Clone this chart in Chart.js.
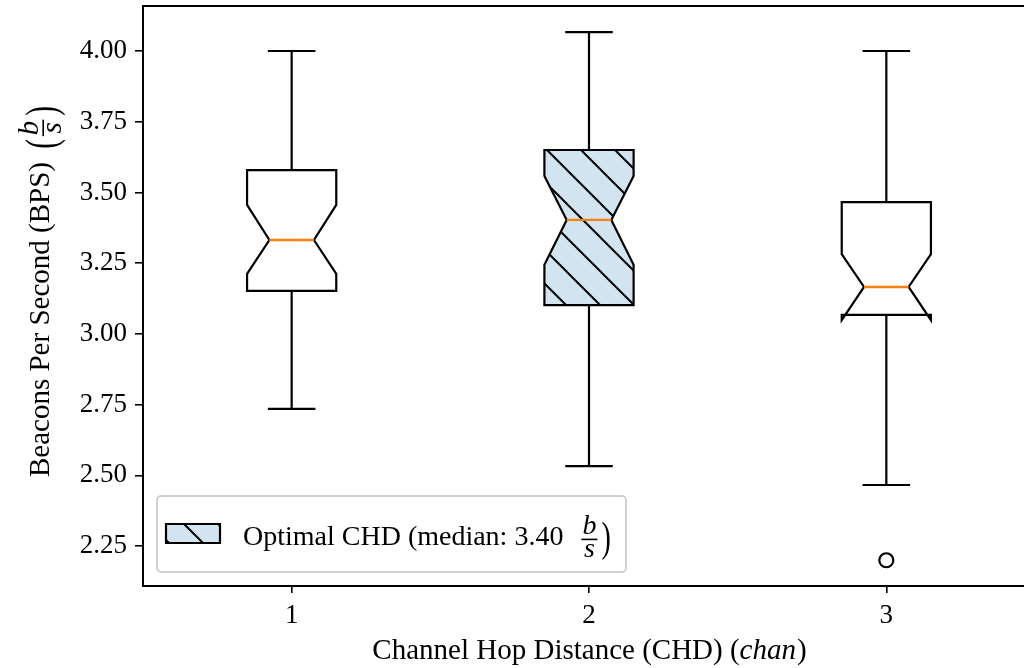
<!DOCTYPE html>
<html>
<head>
<meta charset="utf-8">
<script src="https://cdn.jsdelivr.net/npm/chart.js@4.4.1/dist/chart.umd.min.js"></script>
<style>
  html, body { margin: 0; padding: 0; background: #fff; overflow: hidden; }
  #wrap { width: 1046px; height: 668px; }
</style>
</head>
<body>
<div id="wrap"><canvas id="bps" width="1046" height="668"></canvas></div>
<script>
(function () {
    'use strict';

    // chart data
    var categories = [1, 2, 3];
    var whiskerLow = [2.735, 2.533, 2.466];
    var q1 = [3.152, 3.102, 3.067];
    var medians = [3.332, 3.403, 3.166];
    var q3 = [3.579, 3.650, 3.466];
    var whiskerHigh = [4.000, 4.067, 4.000];
    var notchLow = [3.212, 3.244, 3.049];
    var notchHigh = [3.456, 3.558, 3.282];
    var outliers = [{ x: 3, y: 2.20 }];
    var optimalIndex = 1;
    var yTicks = [2.25, 2.50, 2.75, 3.00, 3.25, 3.50, 3.75, 4.00];
    var xTicks = [1, 2, 3];

    var FONT = '"Liberation Serif", "DejaVu Serif", serif';
    var TICK_FS = 27;
    var BLUE_FILL = 'rgba(31,119,180,0.2)';
    var ORANGE = '#ff7f0e';

    Chart.defaults.font.family = FONT;
    Chart.defaults.font.size = TICK_FS;
    Chart.defaults.color = '#000';

    function hatchPattern(ctx, dx) {
        var t = document.createElement('canvas');
        t.width = 34; t.height = 34;
        var c = t.getContext('2d');
        c.strokeStyle = '#000';
        c.lineWidth = 2;
        c.beginPath();
        c.moveTo(-34, 0); c.lineTo(34, 68);
        c.moveTo(0, 0); c.lineTo(34, 34);
        c.moveTo(0, -34); c.lineTo(68, 34);
        c.stroke();
        var p = ctx.createPattern(t, 'repeat');
        p.setTransform(new DOMMatrix().translate(dx, 0));
        return p;
    }

    // tall thin paren: a normal glyph stretched vertically
    function tallParen(ctx, ch, x, axis, fs) {
        ctx.save();
        ctx.font = fs + 'px ' + FONT;
        ctx.textBaseline = 'middle';
        ctx.textAlign = 'left';
        var w = ctx.measureText(ch).width;
        ctx.translate(x, axis);
        ctx.scale(1, 1.5);
        ctx.fillText(ch, 0, 0);
        ctx.restore();
        return w;
    }

    // text, optional tall "(", stacked b/s fraction, tall ")"
    function drawWithFraction(ctx, before, openParen, fs, x, y, gap) {
        var font = fs + 'px ' + FONT;
        var ital = 'italic ' + fs + 'px ' + FONT;
        var axis = y - fs * 0.2;
        ctx.textAlign = 'left';
        ctx.textBaseline = 'alphabetic';
        ctx.font = font;
        ctx.fillText(before, x, y);
        var cx = x + ctx.measureText(before).width + gap;
        if (openParen) {
            cx += tallParen(ctx, '(', cx, axis + 1, fs) + 1;
        }
        ctx.font = ital;
        var nw = ctx.measureText('b').width;
        var dw = ctx.measureText('s').width;
        var fw = Math.max(nw, dw) + 6;
        ctx.fillText('b', cx + (fw - nw) / 2, axis - 5);
        ctx.fillText('s', cx + (fw - dw) / 2, axis + fs * 0.62);
        ctx.fillRect(cx + 2, axis - 0.8, fw - 4, 1.6);
        cx += fw + 2;
        tallParen(ctx, ')', cx, axis + 1, fs);
    }

    var boxPlugin = {
        id: 'notchedBoxes',
        afterDatasetsDraw: function (chart) {
            var ctx = chart.ctx;
            var xs = chart.scales.x, ys = chart.scales.y;
            var area = chart.chartArea;
            ctx.save();
            ctx.beginPath();
            ctx.rect(area.left, area.top, area.right - area.left, area.bottom - area.top);
            ctx.clip();
            categories.forEach(function (c, i) {
                var L = xs.getPixelForValue(c - 0.15), R = xs.getPixelForValue(c + 0.15);
                var wL = xs.getPixelForValue(c - 0.075), wR = xs.getPixelForValue(c + 0.075);
                var cL = xs.getPixelForValue(c - 0.08), cR = xs.getPixelForValue(c + 0.08);
                var xc = xs.getPixelForValue(c);
                var y1 = ys.getPixelForValue(q1[i]), y3 = ys.getPixelForValue(q3[i]);
                var ym = ys.getPixelForValue(medians[i]);
                var nl = ys.getPixelForValue(notchLow[i]), nh = ys.getPixelForValue(notchHigh[i]);
                var wl = ys.getPixelForValue(whiskerLow[i]), wh = ys.getPixelForValue(whiskerHigh[i]);

                ctx.strokeStyle = '#000';
                ctx.lineWidth = 2.2;
                ctx.lineCap = 'butt';
                // whiskers + caps
                ctx.beginPath();
                ctx.moveTo(xc, y1); ctx.lineTo(xc, wl);
                ctx.moveTo(xc, y3); ctx.lineTo(xc, wh);
                ctx.moveTo(cL, wl); ctx.lineTo(cR, wl);
                ctx.moveTo(cL, wh); ctx.lineTo(cR, wh);
                ctx.stroke();

                // notched box
                ctx.beginPath();
                ctx.moveTo(L, y1);
                ctx.lineTo(R, y1);
                ctx.lineTo(R, nl);
                ctx.lineTo(wR, ym);
                ctx.lineTo(R, nh);
                ctx.lineTo(R, y3);
                ctx.lineTo(L, y3);
                ctx.lineTo(L, nh);
                ctx.lineTo(wL, ym);
                ctx.lineTo(L, nl);
                ctx.closePath();
                if (i === optimalIndex) {
                    ctx.fillStyle = BLUE_FILL;
                    ctx.fill();
                    ctx.fillStyle = hatchPattern(ctx, 23);
                    ctx.fill();
                } else {
                    ctx.fillStyle = '#fff';
                    ctx.fill();
                }
                ctx.lineJoin = 'miter';
                ctx.stroke();

                // median
                ctx.strokeStyle = ORANGE;
                ctx.lineWidth = 2.4;
                ctx.beginPath();
                ctx.moveTo(wL, ym); ctx.lineTo(wR, ym);
                ctx.stroke();
            });
            ctx.restore();

            // frame: top + right (left/bottom come from axis borders)
            ctx.save();
            ctx.strokeStyle = '#000';
            ctx.lineWidth = 2;
            ctx.beginPath();
            ctx.moveTo(area.left, area.top);
            ctx.lineTo(area.right, area.top);
            ctx.lineTo(area.right, area.bottom);
            ctx.stroke();
            ctx.restore();

            // legend
            ctx.save();
            var lx = 157, ly = 496, lw = 469, lh = 76;
            ctx.fillStyle = 'rgba(255,255,255,0.85)';
            ctx.strokeStyle = '#d0d0d0';
            ctx.lineWidth = 2;
            ctx.beginPath();
            ctx.roundRect(lx, ly, lw, lh, 4);
            ctx.fill();
            ctx.stroke();
            ctx.beginPath();
            ctx.rect(166, 524, 54, 19);
            ctx.fillStyle = BLUE_FILL;
            ctx.fill();
            ctx.fillStyle = hatchPattern(ctx, 0);
            ctx.fill();
            ctx.strokeStyle = '#000';
            ctx.lineWidth = 2.2;
            ctx.stroke();
            ctx.fillStyle = '#000';
            drawWithFraction(ctx, 'Optimal CHD (median: 3.40 ', false, 28, 243, 545, 9);
            ctx.restore();

            // axis titles
            ctx.save();
            ctx.fillStyle = '#000';
            var XFS = 29;
            ctx.textBaseline = 'alphabetic';
            var xt1 = 'Channel Hop Distance (CHD) (';
            var xt2 = 'chan';
            var xt3 = ')';
            ctx.font = XFS + 'px ' + FONT;
            var w1 = ctx.measureText(xt1).width, w3 = ctx.measureText(xt3).width;
            ctx.font = 'italic ' + XFS + 'px ' + FONT;
            var w2 = ctx.measureText(xt2).width;
            var startX = 589 - (w1 + w2 + w3) / 2;
            ctx.font = XFS + 'px ' + FONT;
            ctx.fillText(xt1, startX, 659);
            ctx.font = 'italic ' + XFS + 'px ' + FONT;
            ctx.fillText(xt2, startX + w1, 659);
            ctx.font = XFS + 'px ' + FONT;
            ctx.fillText(xt3, startX + w1 + w2 + 1, 659);

            ctx.translate(49, 0);
            ctx.rotate(-Math.PI / 2);
            drawWithFraction(ctx, 'Beacons Per Second (BPS) ', true, 29, -477, 0, 6);
            ctx.restore();
        }
    };

    new Chart(document.getElementById('bps').getContext('2d'), {
        type: 'scatter',
        data: {
            datasets: [{
                label: 'outliers',
                data: outliers,
                pointStyle: 'circle',
                pointRadius: 7,
                pointBorderWidth: 2.2,
                pointBorderColor: '#000',
                pointBackgroundColor: 'rgba(0,0,0,0)'
            }]
        },
        options: {
            responsive: false,
            animation: false,
            devicePixelRatio: 1,
            layout: { autoPadding: false, padding: { top: 6, right: 11, left: 0, bottom: 0 } },
            plugins: { legend: { display: false }, tooltip: { enabled: false } },
            scales: {
                x: {
                    type: 'linear',
                    min: 0.5,
                    max: 3.5,
                    afterFit: function (s) { s.height = 82; s.paddingLeft = 0; s.paddingRight = 0; },
                    afterBuildTicks: function (s) { s.ticks = xTicks.map(function (v) { return { value: v }; }); },
                    grid: { drawOnChartArea: false, drawTicks: true, tickLength: 7, color: '#000', lineWidth: 1.6 },
                    border: { display: true, color: '#000', width: 2 },
                    ticks: { padding: 7, color: '#000', font: { size: TICK_FS }, callback: function (v) { return String(v); } }
                },
                y: {
                    type: 'linear',
                    min: 2.109,
                    max: 4.159,
                    afterFit: function (s) { s.width = 143; s.paddingTop = 0; s.paddingBottom = 0; },
                    afterBuildTicks: function (s) { s.ticks = yTicks.map(function (v) { return { value: v }; }); },
                    grid: { drawOnChartArea: false, drawTicks: true, tickLength: 8, color: '#000', lineWidth: 1.6 },
                    border: { display: true, color: '#000', width: 2 },
                    ticks: { padding: 8, color: '#000', font: { size: TICK_FS }, callback: function (v) { return Number(v).toFixed(2); } }
                }
            }
        },
        plugins: [boxPlugin]
    });
})();
</script>
</body>
</html>
